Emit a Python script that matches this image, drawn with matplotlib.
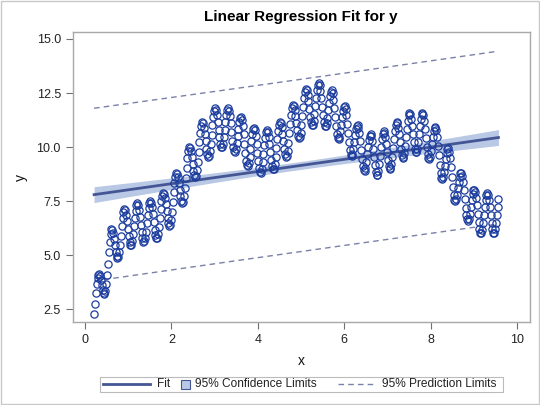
import numpy as np
import matplotlib
matplotlib.use('Agg')
import matplotlib.pyplot as plt
from matplotlib.lines import Line2D
from matplotlib.patches import Rectangle

plt.rcParams['font.family'] = ['Liberation Sans', 'DejaVu Sans']

# observations, one row per hump of the wave
x = [0.21, 0.23, 0.25, 0.27, 0.29,
     0.31, 0.33, 0.35, 0.37, 0.39, 0.41, 0.43, 0.45, 0.47, 0.49, 0.51, 0.53, 0.55, 0.57, 0.59,
     0.61, 0.63, 0.65, 0.67, 0.69, 0.71, 0.73, 0.75, 0.77, 0.79, 0.81, 0.83, 0.85, 0.87, 0.89,
     0.91, 0.93, 0.95, 0.97, 0.99, 1.01, 1.03, 1.05, 1.07, 1.09, 1.11, 1.13, 1.15, 1.17, 1.19,
     1.21, 1.23, 1.25, 1.27, 1.29, 1.31, 1.33, 1.35, 1.37, 1.39, 1.41, 1.43, 1.45, 1.47, 1.49,
     1.51, 1.53, 1.55, 1.57, 1.59, 1.61, 1.63, 1.65, 1.67, 1.69, 1.71, 1.73, 1.75, 1.77, 1.79,
     1.81, 1.83, 1.85, 1.87, 1.89, 1.91, 1.93, 1.95, 1.97, 1.99, 2.01, 2.03, 2.05, 2.07, 2.09,
     2.11, 2.13, 2.15, 2.17, 2.19, 2.21, 2.23, 2.25, 2.27, 2.29, 2.31, 2.33, 2.35, 2.37, 2.39,
     2.41, 2.43, 2.45, 2.47, 2.49, 2.51, 2.53, 2.55, 2.57, 2.59, 2.61, 2.63, 2.65, 2.67, 2.69,
     2.71, 2.73, 2.75, 2.77, 2.79, 2.81, 2.83, 2.85, 2.87, 2.89, 2.91, 2.93, 2.95, 2.97, 2.99,
     3.01, 3.03, 3.05, 3.07, 3.09, 3.11, 3.13, 3.15, 3.17, 3.19, 3.21, 3.23, 3.25, 3.27, 3.29,
     3.31, 3.33, 3.35, 3.37, 3.39, 3.41, 3.43, 3.45, 3.47, 3.49, 3.51, 3.53, 3.55, 3.57, 3.59,
     3.61, 3.63, 3.65, 3.67, 3.69, 3.71, 3.73, 3.75, 3.77, 3.79, 3.81, 3.83, 3.85, 3.87, 3.89,
     3.91, 3.93, 3.95, 3.97, 3.99, 4.01, 4.03, 4.05, 4.07, 4.09, 4.11, 4.13, 4.15, 4.17, 4.19,
     4.21, 4.23, 4.25, 4.27, 4.29, 4.31, 4.33, 4.35, 4.37, 4.39, 4.41, 4.43, 4.45, 4.47, 4.49,
     4.51, 4.53, 4.55, 4.57, 4.59, 4.61, 4.63, 4.65, 4.67, 4.69, 4.71, 4.73, 4.75, 4.77, 4.79,
     4.81, 4.83, 4.85, 4.87, 4.89, 4.91, 4.93, 4.95, 4.97, 4.99, 5.01, 5.03, 5.05, 5.07, 5.09,
     5.11, 5.13, 5.15, 5.17, 5.19, 5.21, 5.23, 5.25, 5.27, 5.29, 5.31, 5.33, 5.35, 5.37, 5.39,
     5.41, 5.43, 5.45, 5.47, 5.49, 5.51, 5.53, 5.55, 5.57, 5.59, 5.61, 5.63, 5.65, 5.67, 5.69,
     5.71, 5.73, 5.75, 5.77, 5.79, 5.81, 5.83, 5.85, 5.87, 5.89, 5.91, 5.93, 5.95, 5.97, 5.99,
     6.01, 6.03, 6.05, 6.07, 6.09, 6.11, 6.13, 6.15, 6.17, 6.19, 6.21, 6.23, 6.25, 6.27, 6.29,
     6.31, 6.33, 6.35, 6.37, 6.39, 6.41, 6.43, 6.45, 6.47, 6.49, 6.51, 6.53, 6.55, 6.57, 6.59,
     6.61, 6.63, 6.65, 6.67, 6.69, 6.71, 6.73, 6.75, 6.77, 6.79, 6.81, 6.83, 6.85, 6.87, 6.89,
     6.91, 6.93, 6.95, 6.97, 6.99, 7.01, 7.03, 7.05, 7.07, 7.09, 7.11, 7.13, 7.15, 7.17, 7.19,
     7.21, 7.23, 7.25, 7.27, 7.29, 7.31, 7.33, 7.35, 7.37, 7.39, 7.41, 7.43, 7.45, 7.47, 7.49,
     7.51, 7.53, 7.55, 7.57, 7.59, 7.61, 7.63, 7.65, 7.67, 7.69, 7.71, 7.73, 7.75, 7.77, 7.79,
     7.81, 7.83, 7.85, 7.87, 7.89, 7.91, 7.93, 7.95, 7.97, 7.99, 8.01, 8.03, 8.05, 8.07, 8.09,
     8.11, 8.13, 8.15, 8.17, 8.19, 8.21, 8.23, 8.25, 8.27, 8.29, 8.31, 8.33, 8.35, 8.37, 8.39,
     8.41, 8.43, 8.45, 8.47, 8.49, 8.51, 8.53, 8.55, 8.57, 8.59, 8.61, 8.63, 8.65, 8.67, 8.69,
     8.71, 8.73, 8.75, 8.77, 8.79, 8.81, 8.83, 8.85, 8.87, 8.89, 8.91, 8.93, 8.95, 8.97, 8.99,
     9.01, 9.03, 9.05, 9.07, 9.09, 9.11, 9.13, 9.15, 9.17, 9.19, 9.21, 9.23, 9.25, 9.27, 9.29,
     9.31, 9.33, 9.35, 9.37, 9.39, 9.41, 9.43, 9.45, 9.47, 9.49, 9.51, 9.53, 9.55, 9.57]

y = [2.25, 2.73, 3.22, 3.65, 3.93,
     4.07, 4.12, 4.03, 3.84, 3.60, 3.38, 3.23, 3.21, 3.35, 3.65, 4.08, 4.60, 5.12, 5.59, 5.97,
     6.20, 6.18, 6.02, 5.76, 5.45, 5.16, 4.94, 4.85, 4.91, 5.12, 5.47, 5.89, 6.32, 6.70, 6.99,
     7.13, 7.07, 6.86, 6.56, 6.20, 5.86, 5.60, 5.46, 5.48, 5.65, 5.95, 6.33, 6.72, 7.06, 7.30,
     7.40, 7.32, 7.10, 6.78, 6.41, 6.05, 5.77, 5.62, 5.63, 5.79, 6.08, 6.46, 6.84, 7.17, 7.41,
     7.50, 7.43, 7.21, 6.90, 6.54, 6.18, 5.91, 5.77, 5.79, 5.98, 6.31, 6.71, 7.12, 7.48, 7.75,
     7.87, 7.83, 7.64, 7.36, 7.02, 6.70, 6.46, 6.34, 6.40, 6.64, 7.01, 7.46, 7.92, 8.32, 8.63,
     8.80, 8.77, 8.61, 8.34, 8.02, 7.72, 7.49, 7.39, 7.47, 7.73, 8.11, 8.58, 9.05, 9.48, 9.80,
     9.99, 9.96, 9.80, 9.53, 9.22, 8.91, 8.69, 8.59, 8.67, 8.92, 9.30, 9.76, 10.23, 10.64, 10.96,
     11.14, 11.09, 10.90, 10.60, 10.26, 9.93, 9.68, 9.56, 9.60, 9.81, 10.15, 10.57, 11.00, 11.38, 11.65,
     11.79, 11.71, 11.49, 11.17, 10.80, 10.44, 10.16, 10.01, 10.01, 10.16, 10.44, 10.80, 11.17, 11.49, 11.71,
     11.79, 11.68, 11.43, 11.09, 10.69, 10.30, 9.99, 9.81, 9.79, 9.91, 10.17, 10.50, 10.85, 11.15, 11.34,
     11.40, 11.25, 10.97, 10.58, 10.14, 9.72, 9.37, 9.15, 9.12, 9.27, 9.55, 9.91, 10.28, 10.60, 10.82,
     10.90, 10.78, 10.51, 10.15, 9.74, 9.34, 9.01, 8.82, 8.81, 8.99, 9.30, 9.69, 10.09, 10.43, 10.68,
     10.79, 10.70, 10.48, 10.15, 9.77, 9.41, 9.12, 8.96, 8.99, 9.20, 9.54, 9.95, 10.38, 10.76, 11.03,
     11.17, 11.11, 10.91, 10.61, 10.26, 9.93, 9.67, 9.54, 9.59, 9.82, 10.19, 10.63, 11.08, 11.48, 11.79,
     11.95, 11.90, 11.72, 11.43, 11.09, 10.77, 10.52, 10.40, 10.45, 10.67, 11.01, 11.43, 11.87, 12.25, 12.54,
     12.68, 12.62, 12.41, 12.11, 11.75, 11.41, 11.15, 11.01, 11.03, 11.20, 11.51, 11.89, 12.28, 12.62, 12.86,
     12.96, 12.85, 12.60, 12.26, 11.86, 11.47, 11.16, 10.98, 10.96, 11.09, 11.35, 11.70, 12.05, 12.35, 12.56,
     12.62, 12.48, 12.19, 11.81, 11.38, 10.96, 10.61, 10.40, 10.35, 10.47, 10.72, 11.04, 11.38, 11.67, 11.85,
     11.90, 11.75, 11.47, 11.08, 10.64, 10.22, 9.87, 9.65, 9.59, 9.69, 9.92, 10.23, 10.55, 10.82, 10.99,
     11.02, 10.90, 10.63, 10.27, 9.86, 9.46, 9.13, 8.94, 8.91, 9.05, 9.32, 9.66, 10.02, 10.33, 10.53,
     10.60, 10.50, 10.26, 9.92, 9.54, 9.16, 8.86, 8.69, 8.70, 8.88, 9.20, 9.60, 10.00, 10.36, 10.61,
     10.73, 10.66, 10.44, 10.13, 9.76, 9.41, 9.13, 8.99, 9.02, 9.22, 9.55, 9.97, 10.39, 10.76, 11.04,
     11.17, 11.11, 10.90, 10.60, 10.25, 9.91, 9.64, 9.51, 9.54, 9.73, 10.05, 10.45, 10.85, 11.21, 11.47,
     11.59, 11.51, 11.28, 10.96, 10.58, 10.22, 9.93, 9.78, 9.78, 9.93, 10.22, 10.59, 10.96, 11.28, 11.51,
     11.59, 11.46, 11.20, 10.83, 10.42, 10.01, 9.69, 9.49, 9.45, 9.56, 9.80, 10.12, 10.45, 10.72, 10.90,
     10.94, 10.77, 10.47, 10.06, 9.61, 9.16, 8.80, 8.56, 8.50, 8.60, 8.83, 9.14, 9.46, 9.74, 9.91,
     9.94, 9.77, 9.47, 9.06, 8.61, 8.16, 7.80, 7.56, 7.49, 7.57, 7.78, 8.08, 8.38, 8.63, 8.79,
     8.80, 8.67, 8.39, 8.02, 7.60, 7.18, 6.85, 6.65, 6.59, 6.69, 6.92, 7.23, 7.55, 7.82, 7.99,
     8.02, 7.91, 7.66, 7.31, 6.91, 6.52, 6.21, 6.03, 6.02, 6.18, 6.47, 6.84, 7.22, 7.55, 7.78,
     7.87, 7.78, 7.55, 7.22, 6.84, 6.48, 6.19, 6.03, 6.03, 6.19, 6.49, 6.86, 7.24, 7.57]

title = 'Linear Regression Fit for y'
legend_labels = ['Fit', '95% Confidence Limits', '95% Prediction Limits']
xticks = [0, 2, 4, 6, 8, 10]
yticks = [2.5, 5.0, 7.5, 10.0, 12.5, 15.0]

x = np.array(x)
y = np.array(y)

# ordinary least squares with 95% limits
n = len(x)
b1, b0 = np.polyfit(x, y, 1)
resid = y - (b0 + b1 * x)
s = np.sqrt(np.sum(resid**2) / (n - 2))
xbar = x.mean()
sxx = np.sum((x - xbar)**2)
t = 1.965
xs = np.sort(x)
fit = b0 + b1 * xs
se_mean = s * np.sqrt(1.0 / n + (xs - xbar)**2 / sxx)
se_pred = s * np.sqrt(1.0 + 1.0 / n + (xs - xbar)**2 / sxx)

mark_col = '#1C3D9E'
fit_col = '#445694'
band_col = '#B9C8E4'
pred_col = '#7A80A8'
frame_col = '#A8A8A8'
dash = (0, (4, 3))

W, H = 540, 405
fig = plt.figure(figsize=(W / 100, H / 100), dpi=100)
ax = fig.add_axes([72.7 / W, 1 - 322.3 / H, (530 - 72.7) / W, (322.3 - 32.3) / H])

ax.fill_between(xs, fit - t * se_mean, fit + t * se_mean, color=band_col, lw=0, zorder=1)
ax.plot(xs, fit, color=fit_col, lw=2, zorder=2)
ax.plot(xs, fit + t * se_pred, color=pred_col, lw=1, ls=dash, zorder=2)
ax.plot(xs, fit - t * se_pred, color=pred_col, lw=1, ls=dash, zorder=2)
ax.plot(x, y, 'o', ms=5.2, mfc='none', mec=mark_col, mew=0.9, zorder=3)

ax.set_xlim(-0.285, 10.3)
ax.set_ylim(1.885, 15.31)
ax.set_xticks(xticks)
ax.set_yticks(yticks)
ax.set_yticklabels(['%.1f' % v for v in yticks])
ax.tick_params(colors='#707070', labelcolor='#222222', labelsize=9, length=5, width=0.8)
for sp in ax.spines.values():
    sp.set_color(frame_col)
    sp.set_linewidth(1)

ax.set_xlabel('x', fontsize=10, color='#111111', labelpad=6)
ax.set_ylabel('y', fontsize=10, color='#111111', labelpad=6, rotation=90)
fig.text(301 / W, 1 - 17 / H, title, ha='center', va='center', fontsize=11, fontweight='bold')


def fx(px):
    return px / W


def fy(py):
    return 1 - py / H


# legend drawn by hand so the square swatch can be short
ly = 384.3
lfs = 8.6
fig.patches.append(Rectangle((fx(100), fy(391.7)), fx(503) - fx(100), (391.7 - 376.7) / H,
                             transform=fig.transFigure, fill=False, edgecolor='#BBBBBB', lw=0.8))
fig.add_artist(Line2D([fx(103), fx(150)], [fy(ly), fy(ly)], color=fit_col, lw=2,
                      transform=fig.transFigure))
fig.text(fx(157), fy(ly), legend_labels[0], ha='left', va='center', fontsize=lfs, color='#222222')
fig.patches.append(Rectangle((fx(181), fy(ly + 4.5)), 9 / W, 9 / H, transform=fig.transFigure,
                             facecolor=band_col, edgecolor=fit_col, lw=0.8))
fig.text(fx(195), fy(ly), legend_labels[1], ha='left', va='center', fontsize=lfs, color='#222222')
fig.add_artist(Line2D([fx(338), fx(373)], [fy(ly), fy(ly)], color=pred_col, lw=1, ls=dash,
                      transform=fig.transFigure))
fig.text(fx(382), fy(ly), legend_labels[2], ha='left', va='center', fontsize=lfs, color='#222222')

fig.patches.append(Rectangle((0.002, 0.002), 0.996, 0.996, transform=fig.transFigure,
                             fill=False, edgecolor='#C8C8C8', lw=1))

fig.savefig('out.png', dpi=100)
